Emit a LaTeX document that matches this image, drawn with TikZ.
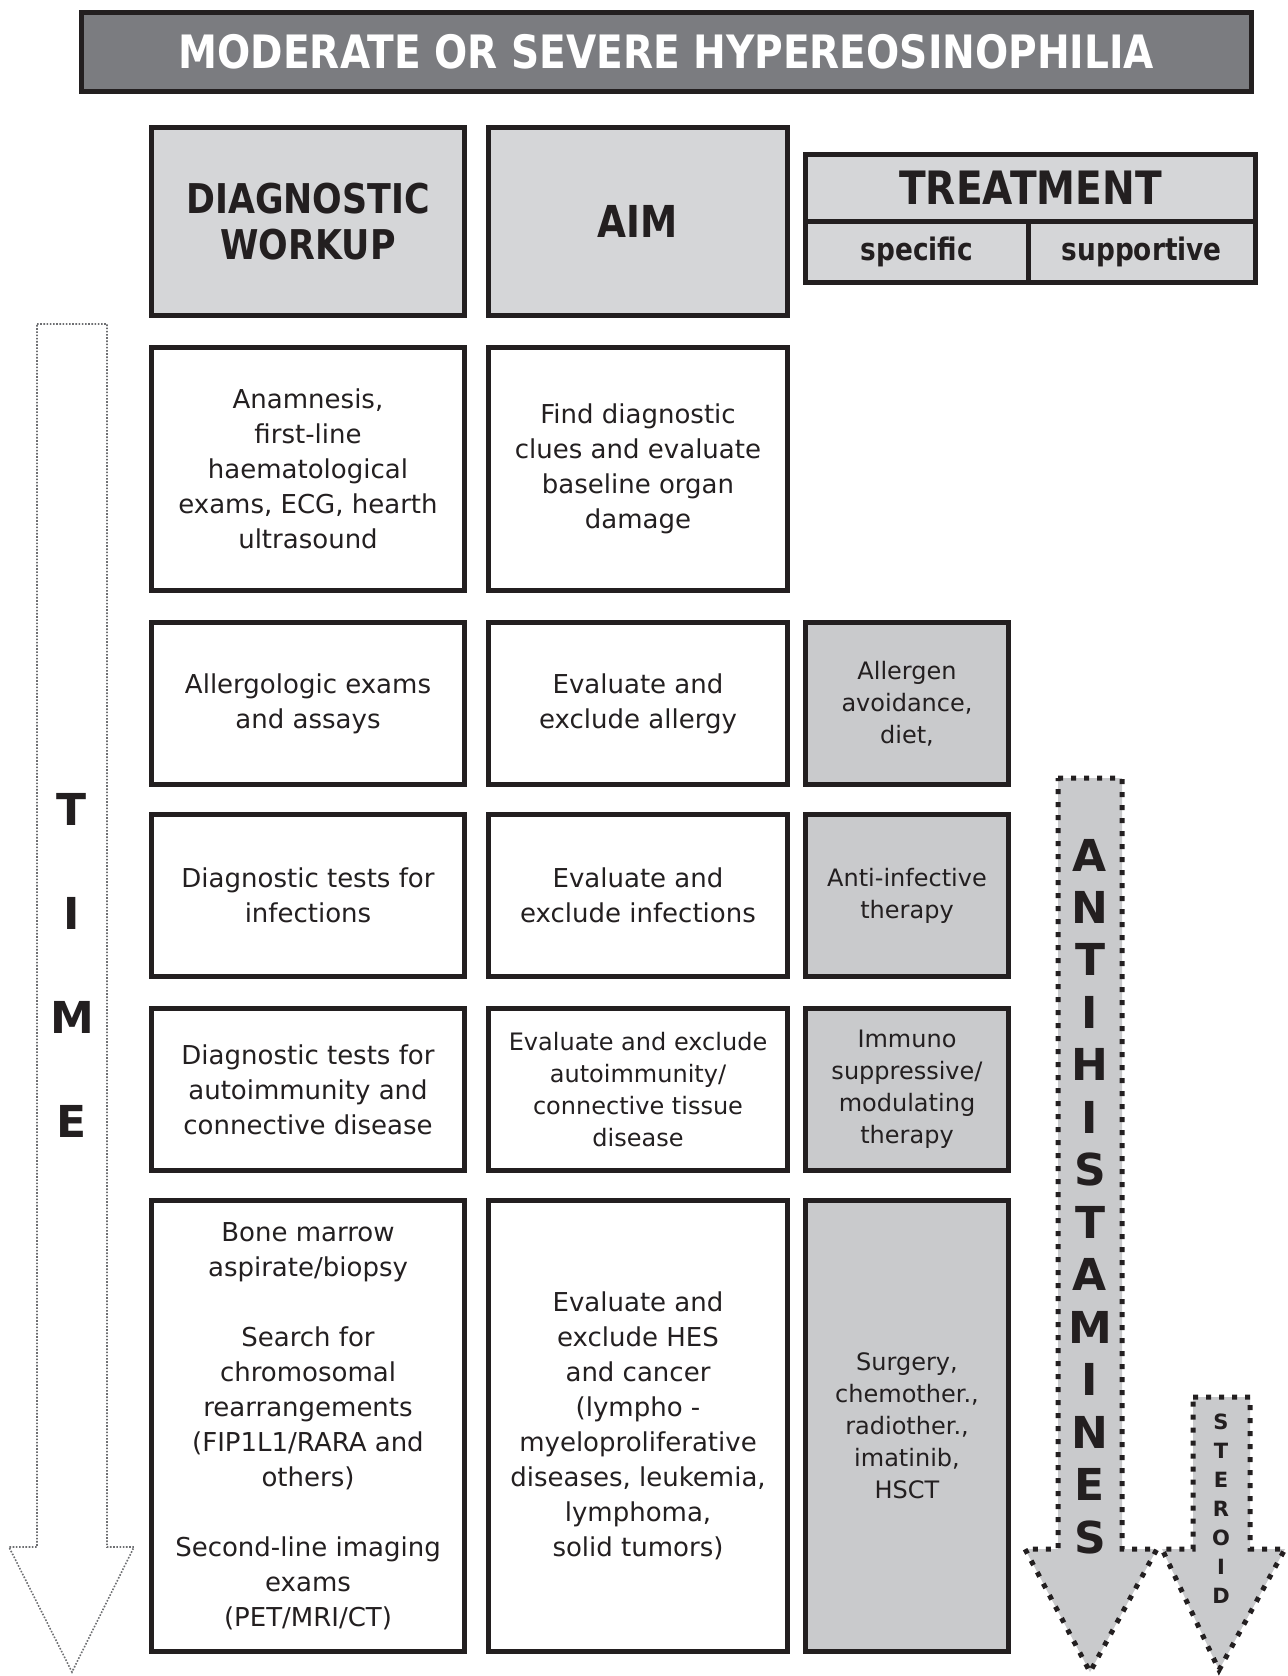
\documentclass[tikz,border=0pt]{standalone}
\usepackage{fontspec}
\setmainfont{DejaVu Sans}
\newfontfamily\hdfont{DejaVu Sans}[UprightFont={* Bold},FakeStretch=0.85]
\newfontfamily\bdfont{DejaVu Sans}[UprightFont={* Bold}]
\usepackage{xcolor}
\usepackage{tikz}
\definecolor{ink}{HTML}{231F20}
\definecolor{titlegray}{HTML}{7B7C80}
\definecolor{hdgray}{HTML}{D5D6D8}
\definecolor{trgray}{HTML}{C9CACC}
\definecolor{timegray}{HTML}{6D6E71}

\begin{document}
\begin{tikzpicture}[x=0.5pt,y=-0.5pt,
box/.style={draw=ink,line width=2.5pt,fill=white,text=ink,align=center,inner sep=0pt,font=\fontsize{13}{17.5}\selectfont},
smalltext/.style={font=\fontsize{12}{16}\selectfont},
hdbox/.style={box,fill=hdgray,font=\hdfont\fontsize{20.5}{23}\selectfont},
trbox/.style={box,smalltext,fill=trgray},
colL/.style={minimum width=156.5pt},
colM/.style={minimum width=149.5pt},
colR/.style={minimum width=101.5pt},
rowtall/.style={minimum height=121.5pt},
rowmid/.style={minimum height=81pt},
dotarrow/.style={draw=ink,fill=trgray,line width=2.5pt,dash pattern=on 2.5pt off 4pt},
timearrow/.style={draw=timegray,line width=0.8pt,dash pattern=on 0.8pt off 0.8pt},
bigletter/.style={text=ink,inner sep=0pt,font=\bdfont\fontsize{22}{22}\selectfont},
smallletter/.style={text=ink,inner sep=0pt,font=\bdfont\fontsize{10.5}{10.5}\selectfont}]
\useasboundingbox(0,0)rectangle(1287,1676);
\node[box,fill=titlegray,text=white,minimum width=585pt,minimum height=39.5pt,font=\hdfont\fontsize{23}{28}\selectfont](title)at(666.5,52){MODERATE OR SEVERE HYPEREOSINOPHILIA};
\node[hdbox,colL,minimum height=94pt](workup)at(308,221.5){DIAGNOSTIC\\WORKUP};
\node[hdbox,colM,minimum height=94pt,font=\hdfont\fontsize{22}{23}\selectfont](aim)at(638,221.5){AIM};
\node[hdbox,minimum width=225pt,minimum height=33.75pt,font=\hdfont\fontsize{23}{23}\selectfont](treat)at(1030.5,188){TREATMENT};
\node[hdbox,minimum width=111.25pt,minimum height=30.25pt,font=\hdfont\fontsize{15.5}{15.5}\selectfont](spec)at(916.75,252){specific};
\node[hdbox,minimum width=113.75pt,minimum height=30.25pt,font=\hdfont\fontsize{15.5}{15.5}\selectfont](supp)at(1141.75,252){supportive};
%row 1
\node[box,colL,rowtall](anam)at(308,469){Anamnesis,\\first-line\\haematological\\exams, ECG, hearth\\ultrasound};
\node[box,colM,rowtall](clues)at(638,469){Find diagnostic\\clues and evaluate\\baseline organ\\damage};
%row 2
\node[box,colL,rowmid](allerg)at(308,703.5){Allergologic exams\\and assays};
\node[box,colM,rowmid](exallerg)at(638,703.5){Evaluate and\\exclude allergy};
\node[trbox,colR,rowmid](avoid)at(907,703.5){Allergen\\avoidance,\\diet,};
%row 3
\node[box,colL,rowmid](infect)at(308,895.5){Diagnostic tests for\\infections};
\node[box,colM,rowmid](exinfect)at(638,895.5){Evaluate and\\exclude infections};
\node[trbox,colR,rowmid](antiinf)at(907,895.5){Anti-infective\\therapy};
%row 4
\node[box,colL,rowmid](autoimm)at(308,1089.5){Diagnostic tests for\\autoimmunity and\\connective disease};
\node[box,smalltext,colM,rowmid](exautoimm)at(638,1089.5){Evaluate and exclude\\autoimmunity/\\connective tissue\\disease};
\node[trbox,colR,rowmid](immuno)at(907,1089.5){Immuno\\suppressive/\\modulating\\therapy};
%row 5
\node[box,colL,minimum height=225.5pt](marrow)at(308,1426){Bone marrow\\aspirate/biopsy\\[17.5pt]Search for\\chromosomal\\rearrangements\\(FIP1L1/RARA and\\others)\\[17.5pt]Second-line imaging\\exams\\(PET/MRI/CT)};
\node[box,colM,minimum height=225.5pt](exhes)at(638,1426){Evaluate and\\exclude HES\\and cancer\\(lympho -\\myeloproliferative\\diseases, leukemia,\\lymphoma,\\solid tumors)};
\node[trbox,colR,minimum height=225.5pt](surgery)at(907,1426){Surgery,\\chemother.,\\radiother.,\\imatinib,\\HSCT};
%arrows
\draw[timearrow](37,324)--(107,324)--(107,1547)--(134,1547)--(72,1672)--(9,1547)--(37,1547)--cycle;
\draw[dotarrow](1058,778)--(1122,778)--(1122,1549)--(1157,1549)--(1090,1672)--(1025,1549)--(1058,1549)--cycle;
\draw[dotarrow](1193,1397)--(1250,1397)--(1250,1549)--(1285,1549)--(1219,1670)--(1162,1549)--(1193,1549)--cycle;
\foreach \ch[count=\i from 0] in {T,I,M,E}
  \node[bigletter](time\i)at(72,{809+104.3*\i}){\ch};
\foreach \ch[count=\i from 0] in {A,N,T,I,H,I,S,T,A,M,I,N,E,S}
  \node[bigletter](antih\i)at(1090,{855+52.46*\i}){\ch};
\foreach \ch[count=\i from 0] in {S,T,E,R,O,I,D}
  \node[smallletter](ster\i)at(1221,{1422+29*\i}){\ch};
\end{tikzpicture}
\end{document}
